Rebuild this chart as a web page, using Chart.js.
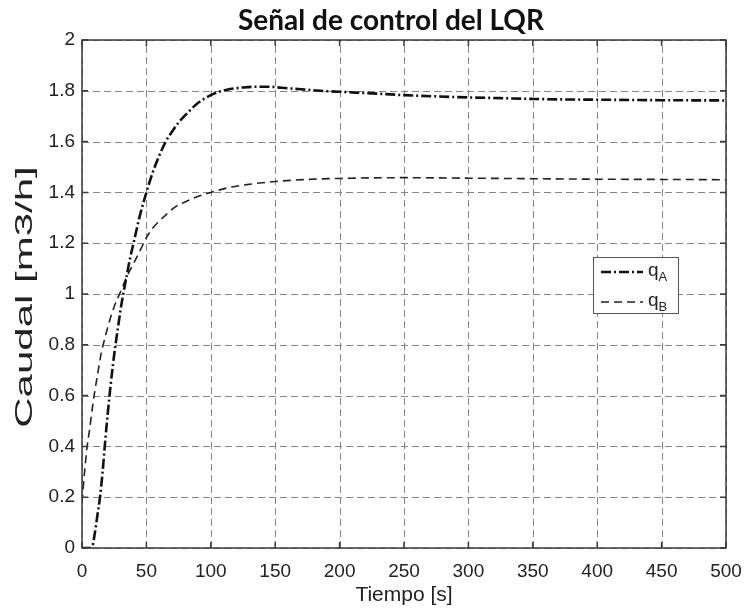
<!DOCTYPE html>
<html lang="es">
  <head>
    <meta charset="UTF-8" />
    <title>Señal de control del LQR</title>
    <script src="https://cdn.jsdelivr.net/npm/chart.js"></script>
    <style>
      html, body { margin: 0; padding: 0; background: #fff; }
      .wrap { width: 746px; height: 612px; }
    </style>
  </head>
  <body>
    <div class="wrap"><canvas id="lqrChart" width="746" height="612"></canvas></div>
    <script>
      // q_A (dash-dot, thick)
      const timeA = [0, 5, 7.5, 10, 12, 14, 16, 18, 20, 22, 24, 26, 28, 30, 32, 35, 37.5, 40, 45, 50, 55, 60, 65, 70, 75, 80, 90, 100, 107, 115, 125, 135, 145, 155, 170, 185, 200, 225, 250, 275, 300, 325, 350, 375, 400, 450, 500];
      const caudalA = [0, 0, 0, 0.06, 0.13, 0.2, 0.3, 0.42, 0.53, 0.63, 0.72, 0.8, 0.87, 0.94, 1.0, 1.08, 1.145, 1.2, 1.31, 1.4, 1.48, 1.545, 1.6, 1.64, 1.675, 1.703, 1.752, 1.783, 1.797, 1.807, 1.813, 1.816, 1.816, 1.812, 1.806, 1.8, 1.796, 1.79, 1.783, 1.778, 1.774, 1.771, 1.768, 1.766, 1.765, 1.763, 1.762];

      // q_B (dashed)
      const timeB = [0, 2, 4, 6, 8, 10, 12, 15, 18, 20, 25, 30, 35, 40, 45, 50, 55, 61, 67, 73, 80, 87, 100, 115, 130, 150, 175, 200, 250, 300, 350, 400, 450, 500];
      const caudalB = [0.18, 0.3, 0.4, 0.47, 0.55, 0.62, 0.68, 0.77, 0.83, 0.87, 0.95, 1.01, 1.07, 1.12, 1.17, 1.222, 1.26, 1.292, 1.32, 1.345, 1.362, 1.378, 1.4, 1.42, 1.432, 1.443, 1.451, 1.455, 1.458, 1.456, 1.454, 1.452, 1.451, 1.45];

      const seriesNames = ["qA", "qB"];
      const xTitle = "Tiempo [s]";
      const yTitle = "Caudal [m3/h]";
      const chartTitle = "Señal de control del LQR";

      function toPoints(xs, ys) {
        return xs.map((x, i) => ({ x: x, y: ys[i] }));
      }

      // rejilla punteada (debajo de las curvas)
      const gridPlugin = {
        id: "dashGrid",
        beforeDatasetsDraw(chart) {
          const ctx = chart.ctx;
          const ca = chart.chartArea;
          const xs = chart.scales.x;
          const ys = chart.scales.y;
          ctx.save();
          ctx.strokeStyle = "#858585";
          ctx.lineWidth = 1;
          ctx.setLineDash([7, 4]);
          ctx.beginPath();
          xs.ticks.forEach((t) => {
            const px = Math.round(xs.getPixelForValue(t.value)) + 0.5;
            ctx.moveTo(px, ca.bottom);
            ctx.lineTo(px, ca.top);
          });
          ys.ticks.forEach((t) => {
            const py = Math.round(ys.getPixelForValue(t.value)) + 0.5;
            ctx.moveTo(ca.left, py);
            ctx.lineTo(ca.right, py);
          });
          ctx.stroke();
          ctx.restore();
        },
      };

      // marco, ticks hacia dentro, título y etiqueta del eje y
      const framePlugin = {
        id: "frame",
        afterDraw(chart) {
          const ctx = chart.ctx;
          const ca = chart.chartArea;
          const xs = chart.scales.x;
          const ys = chart.scales.y;
          ctx.save();
          ctx.strokeStyle = "#3a3a3a";
          ctx.lineWidth = 1.5;
          ctx.setLineDash([]);
          ctx.beginPath();
          xs.ticks.forEach((t) => {
            const px = xs.getPixelForValue(t.value);
            ctx.moveTo(px, ca.bottom);
            ctx.lineTo(px, ca.bottom - 6);
            ctx.moveTo(px, ca.top);
            ctx.lineTo(px, ca.top + 6);
          });
          ys.ticks.forEach((t) => {
            const py = ys.getPixelForValue(t.value);
            ctx.moveTo(ca.left, py);
            ctx.lineTo(ca.left + 6, py);
            ctx.moveTo(ca.right, py);
            ctx.lineTo(ca.right - 6, py);
          });
          ctx.stroke();
          ctx.strokeRect(ca.left, ca.top, ca.right - ca.left, ca.bottom - ca.top);

          // título
          ctx.fillStyle = "#111";
          ctx.textAlign = "center";
          ctx.textBaseline = "middle";
          ctx.font = "bold 28px Lato, 'Open Sans', sans-serif";
          ctx.fillText(chartTitle, 391, 21);

          // etiqueta del eje y (ancha, como en la figura original)
          ctx.translate(25, 297);
          ctx.rotate(-Math.PI / 2);
          ctx.scale(1.75, 1);
          ctx.fillStyle = "#222";
          ctx.font = "24px 'Liberation Sans', Arial, sans-serif";
          ctx.fillText(yTitle, 0, 0);
          ctx.restore();
        },
      };

      // leyenda con subíndices
      const legendPlugin = {
        id: "subLegend",
        afterDraw(chart) {
          const ctx = chart.ctx;
          const ca = chart.chartArea;
          const bx = ca.right - 133;
          const by = ca.top + 217;
          const bw = 85;
          const bh = 56;
          ctx.save();
          ctx.fillStyle = "#fff";
          ctx.fillRect(bx, by, bw, bh);
          ctx.strokeStyle = "#555";
          ctx.lineWidth = 1;
          ctx.setLineDash([]);
          ctx.strokeRect(bx + 0.5, by + 0.5, bw, bh);
          chart.data.datasets.forEach((ds, i) => {
            const ly = by + 15 + i * 30;
            ctx.strokeStyle = ds.borderColor;
            ctx.lineWidth = ds.borderWidth;
            ctx.setLineDash(ds.borderDash);
            ctx.beginPath();
            ctx.moveTo(bx + 8, ly);
            ctx.lineTo(bx + 50, ly);
            ctx.stroke();
            ctx.setLineDash([]);
            ctx.fillStyle = "#222";
            ctx.textBaseline = "alphabetic";
            ctx.font = "19px 'Liberation Sans', Arial, sans-serif";
            ctx.fillText(ds.label.charAt(0), bx + 55, ly + 4);
            const w = ctx.measureText(ds.label.charAt(0)).width;
            ctx.font = "13px 'Liberation Sans', Arial, sans-serif";
            ctx.fillText(ds.label.slice(1), bx + 55 + w, ly + 9);
          });
          ctx.restore();
        },
      };

      const tickFont = { family: "'Liberation Sans', Arial, sans-serif", size: 19 };

      new Chart(document.getElementById("lqrChart").getContext("2d"), {
        type: "line",
        data: {
          datasets: [
            {
              label: seriesNames[0],
              data: toPoints(timeA, caudalA),
              borderColor: "#111",
              borderWidth: 2.6,
              borderDash: [10, 3, 2, 3],
              pointRadius: 0,
              fill: false,
              cubicInterpolationMode: "monotone",
            },
            {
              label: seriesNames[1],
              data: toPoints(timeB, caudalB),
              borderColor: "#222",
              borderWidth: 1.6,
              borderDash: [8, 5],
              pointRadius: 0,
              fill: false,
              cubicInterpolationMode: "monotone",
            },
          ],
        },
        options: {
          responsive: false,
          animation: false,
          layout: { padding: { top: 40, right: 0, left: 0, bottom: 0 } },
          plugins: {
            legend: { display: false },
            tooltip: { enabled: false },
            title: { display: false },
          },
          scales: {
            x: {
              type: "linear",
              min: 0,
              max: 500,
              ticks: { stepSize: 50, color: "#222", font: tickFont, padding: 12, maxRotation: 0 },
              grid: { display: false, drawTicks: false, tickLength: 0 },
              border: { display: false },
              title: {
                display: true,
                text: xTitle,
                color: "#222",
                font: { family: "'Liberation Sans', Arial, sans-serif", size: 21 },
                padding: { top: 0, bottom: 4 },
              },
              afterFit(scale) {
                scale.height = 64;
                scale.paddingLeft = 0;
                scale.paddingRight = 20;
              },
            },
            y: {
              min: 0,
              max: 2,
              ticks: {
                stepSize: 0.2,
                color: "#222",
                font: tickFont,
                padding: 7,
                callback: (v) => String(Math.round(v * 10) / 10),
              },
              grid: { display: false, drawTicks: false, tickLength: 0 },
              border: { display: false },
              title: { display: false },
              afterFit(scale) { scale.width = 82; },
            },
          },
        },
        plugins: [gridPlugin, framePlugin, legendPlugin],
      });
    </script>
  </body>
</html>
